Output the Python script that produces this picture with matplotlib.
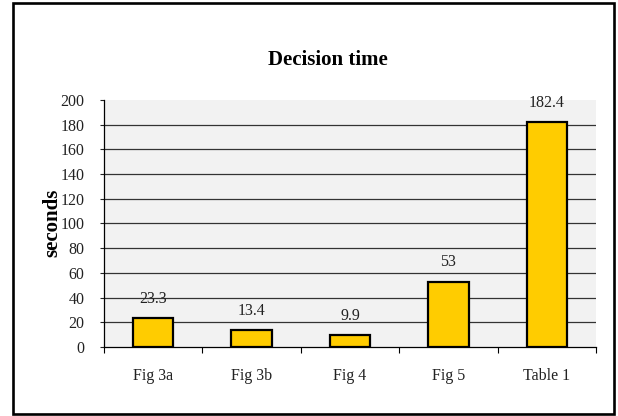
import matplotlib.pyplot as plt
from matplotlib.patches import Rectangle

categories = ["Fig 3a", "Fig 3b", "Fig 4", "Fig 5", "Table 1"]
seconds = [23.3, 13.4, 9.9, 53, 182.4]
value_labels = ["23.3", "13.4", "9.9", "53", "182.4"]
y_ticks = [0, 20, 40, 60, 80, 100, 120, 140, 160, 180, 200]

plt.rcParams["font.family"] = ["Liberation Serif", "DejaVu Serif"]

fig = plt.figure(figsize=(6.18, 4.16), dpi=100)
ax = fig.add_axes([0.1683, 0.1659, 0.7961, 0.5937])
ax.set_facecolor("#f2f2f2")

# horizontal grid lines, none at the top edge
for y in y_ticks[1:-1]:
    ax.axhline(y, color="#333333", lw=0.9, zorder=1)

x = list(range(len(categories)))
ax.bar(x, seconds, width=0.41, color="#ffcc00", edgecolor="black", lw=1.6, zorder=3)

for xi, v, lab in zip(x, seconds, value_labels):
    ax.annotate(lab, (xi, v), xytext=(0, 8), textcoords="offset points",
                ha="center", va="bottom", fontsize=11.5, color="#222222")

ax.set_xlim(-0.5, len(categories) - 0.5)
ax.set_ylim(0, 200)
ax.set_yticks(y_ticks)
ax.tick_params(axis="y", labelsize=11.5, length=3, width=0.8, pad=11, colors="#222222")
ax.set_xticks(x)
ax.set_xticklabels(categories)
ax.set_xticks([i - 0.5 for i in range(len(categories) + 1)], minor=True)
ax.tick_params(axis="x", which="major", length=0, labelsize=11.5, pad=15, colors="#222222")
ax.tick_params(axis="x", which="minor", length=4, width=0.8)

for side in ["top", "right"]:
    ax.spines[side].set_visible(False)
for side in ["left", "bottom"]:
    ax.spines[side].set_linewidth(0.9)

fig.text(52 / 618, 1 - 223 / 416, "seconds", rotation=90, ha="center", va="center",
         fontsize=15, fontweight="bold")
fig.text(328 / 618, 1 - 60 / 416, "Decision time", ha="center", va="center",
         fontsize=15, fontweight="bold")

# outer chart frame
fig.patches.append(Rectangle((12.5 / 618, 2 / 416), 601 / 618, 411 / 416,
                             transform=fig.transFigure, fill=False,
                             edgecolor="black", lw=1.9))

fig.savefig("out.png", dpi=100)
